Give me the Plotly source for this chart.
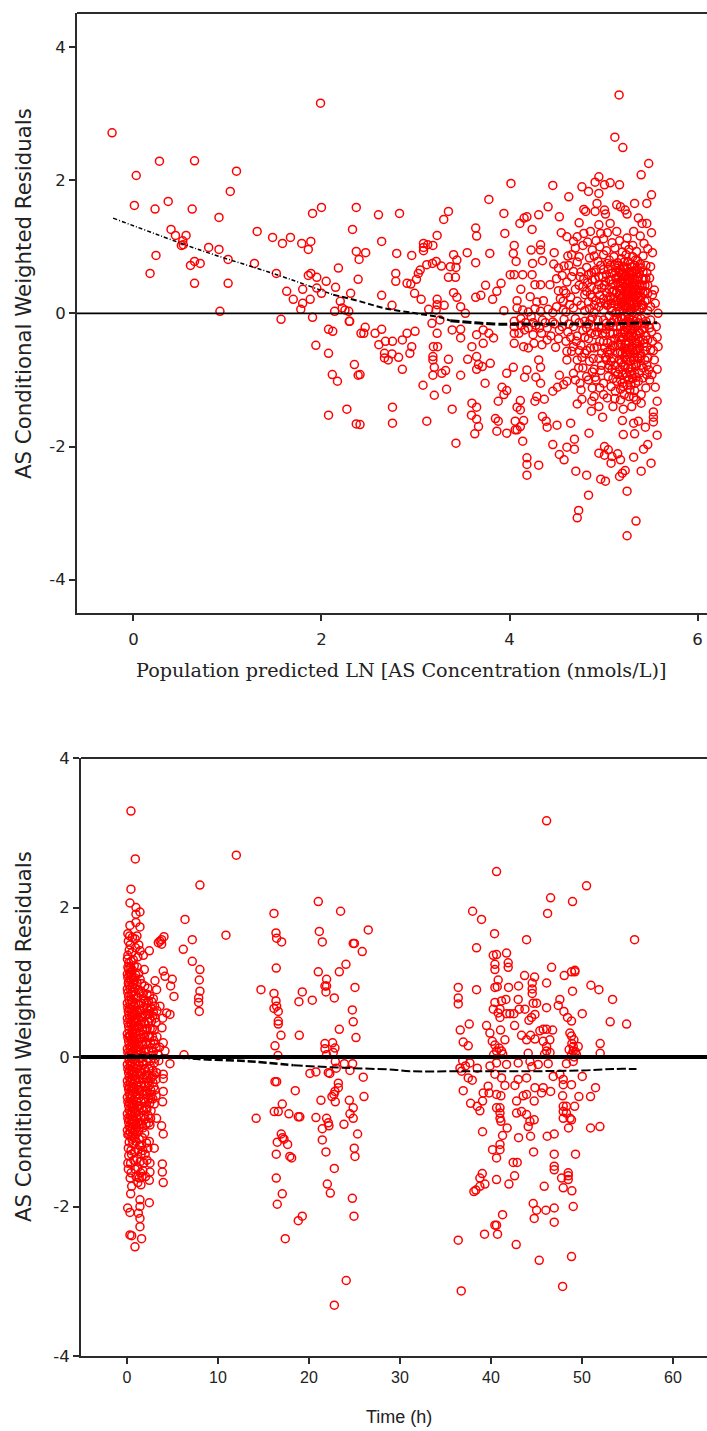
import plotly.graph_objects as go

# ---------- Upper panel: population prediction vs residual ----------
pred_sparse_left = [
(-.227,2.71),(.03,2.07),(.277,2.285),(.65,2.29),(1.096,2.135),(1.03,1.83),(.01,1.62),(.23,1.565),(.37,1.68),(.625,1.565),
(.91,1.44),(.40,1.26),(.447,1.17),(.56,1.17),(.525,1.09),(.51,1.02),(.53,1.03),(.80,.99),(.91,.96),(.24,.87),(.65,.78),(.607,.72),
(.71,.75),(1.007,.81),(.177,.60),(.65,.45),(1.007,.45),(.92,.03),(1.316,1.23),(1.48,1.14),(1.585,1.05),(1.67,1.14),(1.79,1.05),
(1.887,1.08),(1.86,.96),(1.905,1.50),(2.0,1.59),(1.99,3.155),(2.37,1.59),(2.33,1.26),(2.37,.93),(2.40,.81),(1.287,.75),(1.52,.60),
(2.18,.68),(2.39,.51),(1.86,.57),(1.887,.60),(1.95,.54),(2.05,.48),(2.15,.39),(1.80,.36),(1.95,.38),(1.63,.33),(2.0,.30),(2.31,.30),
(1.70,.21),(1.88,.21),(1.80,.15),(1.78,.06),(2.2,.18),(2.22,.08),(2.14,.03),(2.29,.03),(2.25,.05),(1.57,-.09),(1.905,-.06),(2.295,-.12),
(2.075,-.24),(2.12,-.27),(2.42,-.30),(1.94,-.48),(2.075,-.60),(2.35,-.77),(2.115,-.92),(2.39,-.93),(2.17,-1.02),(2.27,-1.44),
(2.075,-1.53),(2.37,-1.66),(2.465,-.21),(2.45,-.30),(2.30,-.12)]
pred_mid_upper = [
(2.606,1.48),(2.83,1.50),(2.64,1.08),(2.47,.91),(2.80,.90),(2.96,.87),(2.79,.60),(2.79,.48),(2.91,.45),(2.95,.44),(3.01,.51),(2.64,.27),
(2.75,.12),(2.99,.30),(3.06,.21),(3.14,.06),(3.23,.21),(3.23,.13),(3.305,.12),(3.22,.05),(3.35,1.53),(3.30,1.41),(3.23,1.17),(3.185,1.02),
(3.085,1.05),(3.085,.99),(3.085,.94),(3.13,1.03),(3.22,.78),(3.18,.75),(3.12,.73),(3.05,.65),(3.03,.60),(3.275,.71),(3.405,.88),(3.55,.91),
(3.64,.76),(3.79,.90),(3.37,.70),(3.44,.80),(3.43,.69),(3.35,.54),(3.425,.54),(3.405,.31),(3.44,.24),(3.64,.24),(3.695,.27),(3.745,.42),
(3.82,.21),(3.865,.33),(3.91,.45),(3.48,.10),(3.53,.0),(3.64,1.28),(3.65,1.16),(3.78,1.71),(4.015,1.95),(3.94,1.50),(3.95,1.20),(4.11,1.35),
(4.155,1.43),(4.185,1.45),(4.24,1.26),(4.31,1.48),(4.41,1.60),(4.46,1.92),(4.53,1.45),(4.63,1.75),(4.74,1.36),(4.77,1.90),(4.84,1.83),
(4.91,1.97),(4.95,2.05),(4.95,1.80),(5.01,1.93),(5.07,1.96),(5.17,1.93),(5.165,3.28),(5.12,2.645),(5.205,2.49),(5.48,2.25),(5.40,2.08),
(5.51,1.78),(5.46,1.65),(5.33,1.65),(5.14,1.63),(5.18,1.60),(5.23,1.55),(5.25,1.49),(4.93,1.65),(4.79,1.56),(4.81,1.53),(5.01,1.55),(5.02,1.49),
(4.91,1.53),(4.05,1.02),(4.04,.90),(4.07,.78),(4.23,.95),(4.33,1.03),(4.33,.95),(4.245,.75),(4.35,.79),(4.475,.91),(4.007,.58),(4.05,.58),
(4.14,.58),(4.24,.58),(4.12,.36),(4.27,.43),(4.33,.43),(4.43,.43),(4.52,.34),(4.575,.34),(4.08,.19),(4.22,.25),(4.29,.17),(4.36,.19),(4.50,.10),
(3.94,.04),(4.08,.08),(4.14,.05),(4.2,.02),(4.27,.07),(4.33,.03),(4.41,.06),(4.46,.01),(4.57,.05)]
pred_dense_upper = [
(4.55,1.21),(4.61,1.15),(4.68,1.08),(4.72,1.15),(4.79,1.2),(4.86,1.23),(4.95,1.33),(4.97,1.2),(5.07,1.35),(5.14,1.23),(5.25,1.13),(5.32,1.23),
(5.37,1.43),(5.41,1.35),(5.46,1.35),(5.51,1.21),(5.43,1.05),(5.52,.91),(5.5,.7),(5.49,.53),(5.54,.35),(5.55,.15),(5.58,.0),
(4.47,.74),(4.52,.68),(4.58,.71),(4.62,.86),(4.66,.88),(4.68,.63),(4.72,.77),(4.75,.55),(4.74,.42),(4.70,.36),(4.65,.24),(4.61,.47),(4.56,.57),
(4.78,1.02),(4.83,1.07),(4.88,.95),(4.92,1.09),(4.96,1.0),(5.0,1.12),(5.04,1.21),(5.09,1.06),(5.12,.98),(5.17,1.09),(5.2,.92),(5.23,1.02),
(4.85,.83),(4.9,.86),(4.94,.78),(5.0,.88),(5.03,.94),(5.06,.8),(5.11,.85),(5.15,.76),(5.19,.82),(5.24,.88),(5.27,.96),(5.31,1.02),(5.35,.93),
(5.39,1.16),(5.42,.86),(5.45,.72),(5.47,.97),(5.36,.79),(5.31,.85),(5.28,.74),(5.25,.68),(5.21,.7),(5.17,.62),(5.13,.68),(5.09,.6),(5.05,.66),
(4.97,.72),(4.92,.65),(4.87,.61),(4.82,.69),(4.79,.52),(4.83,.46),(4.87,.4),(4.91,.51),(4.95,.43),(4.99,.55),(5.02,.48),(5.06,.36),(5.1,.44),
(5.13,.53),(5.16,.41),(5.19,.49),(5.22,.55),(5.25,.45),(5.28,.6),(5.31,.52),(5.34,.64),(5.37,.55),(5.4,.68),(5.43,.5),(5.46,.61),(5.38,.42),
(5.34,.36),(5.3,.42),(5.27,.33),(5.24,.29),(5.2,.36),(5.17,.27),(5.14,.31),(5.11,.23),(5.07,.25),(5.03,.31),(5.0,.22),(4.96,.27),(4.92,.19),
(4.88,.24),(4.84,.17),(4.8,.28),(4.76,.12),(4.72,.18),(4.68,.08),(4.64,.13),(4.6,.02),(4.8,.04),(4.85,.07),(4.9,.02),(4.95,.1),(5.0,.05),
(5.04,.12),(5.08,.08),(5.12,.14),(5.16,.1),(5.2,.16),(5.24,.11),(5.28,.19),(5.32,.23),(5.36,.17),(5.4,.25),(5.44,.33),(5.47,.42),(5.42,.12),
(5.38,.06),(5.33,.09),(5.29,.03),(5.25,.02),(5.21,.06),(5.17,.03),(5.13,.01),(5.09,.03),(5.46,.2),(5.5,.1),(5.47,.04),(5.52,.28),
(5.12,.72),(5.16,.55),(5.2,.6),(5.22,.77),(5.26,.55),(5.3,.63),(5.33,.72),(5.18,.47),(5.23,.4),(5.27,.47),(5.31,.3),(5.35,.27),(5.22,.2),(5.26,.26),
(5.14,.18),(5.18,.22),(5.29,.12),(5.33,.15),(5.37,.35),(5.41,.42)]
pred_blob_core = [
(5.08,.5),(5.11,.34),(5.13,.62),(5.15,.46),(5.15,.2),(5.16,.72),(5.18,.34),(5.18,.66),(5.19,.13),(5.2,.52),(5.21,.28),(5.21,.44),(5.22,.68),(5.23,.08),
(5.24,.58),(5.24,.37),(5.25,.22),(5.26,.5),(5.26,.78),(5.27,.14),(5.27,.63),(5.28,.39),(5.29,.53),(5.29,.27),(5.3,.7),(5.3,.07),(5.31,.46),(5.31,.18),
(5.32,.6),(5.32,.33),(5.33,.5),(5.34,.26),(5.34,.8),(5.35,.42),(5.35,.12),(5.36,.66),(5.36,.5),(5.37,.24),(5.38,.6),(5.39,.34),(5.39,.74),(5.4,.13),
(5.41,.52),(5.42,.3),(5.42,.62),(5.44,.42),(5.44,.18),(5.45,.52),(5.47,.3),
(5.06,-.04),(5.1,-.2),(5.12,-.38),(5.14,-.08),(5.15,-.3),(5.16,-.48),(5.17,-.7),(5.18,-.2),(5.19,-.4),(5.2,-.6),(5.2,-.08),(5.21,-.78),(5.22,-.28),
(5.23,-.46),(5.24,-.14),(5.24,-.7),(5.25,-.54),(5.26,-.3),(5.27,-.08),(5.27,-.44),(5.28,-.66),(5.29,-.24),(5.3,-.5),(5.3,-.82),(5.31,-.1),(5.32,-.36),
(5.32,-.6),(5.33,-.2),(5.34,-.56),(5.34,-.76),(5.35,-.32),(5.36,-.46),(5.37,-.14),(5.38,-.52),(5.39,-.3),(5.4,-.64),(5.4,-.08),(5.42,-.4),(5.43,-.22),
(5.44,-.56),(5.45,-.12),(5.47,-.4),(5.49,-.22),(5.5,-.55),
(5.2,.25),(5.23,.46),(5.25,.33),(5.28,.05),(5.3,.36),(5.33,.42),(5.36,.3),(5.19,.58),(5.22,.11),(5.26,.09),(5.31,.25),(5.35,.05),(5.39,.2),(5.41,.08),
(5.18,-.05),(5.22,-.16),(5.25,-.22),(5.28,-.34),(5.31,-.3),(5.34,-.12),(5.37,-.38),(5.21,-.36),(5.24,-.58),(5.27,-.52),(5.3,-.16),(5.33,-.66),(5.36,-.66),(5.28,-.14)]
pred_blob_wide = [
(4.9,.62),(4.93,.36),(4.95,.55),(4.97,.16),(4.98,.38),(5.0,.66),(5.01,.42),(5.02,.14),(5.03,.58),(5.04,.75),(5.05,.2),(5.06,.5),(5.07,.72),(5.08,.15),(5.09,.32),
(4.84,.58),(4.86,.28),(4.88,.5),(4.9,.12),(4.82,.33),(4.78,.4),(4.76,.62),(4.74,.85),(4.7,.98),(4.66,.55),(4.63,.72),(4.6,.3),(4.57,.18),(4.54,.22),(4.5,.52),
(4.88,-.06),(4.91,-.32),(4.93,-.5),(4.95,-.2),(4.96,-.42),(4.98,-.78),(4.99,-.3),(5.0,-.1),(5.01,-.52),(5.02,-.66),(5.03,-.24),(5.04,-.44),(5.05,-.82),(5.06,-.62),(5.07,-.3),(5.08,-.72),(5.09,-.14),(5.1,-.48),
(4.84,-.16),(4.86,-.52),(4.87,-.3),(4.89,-.68),(4.9,-.84),(4.91,-.96),(4.82,-.56),(4.8,-.36),(4.77,-.66),(4.74,-.56),(4.71,-.42),(4.68,-.5),(4.65,-.36),(4.63,-.16),(4.6,-.42),(4.56,-.2),(4.52,-.38),
(4.48,-.16),(4.44,-.34),(4.4,-.4),(4.38,-.14),(4.32,-.22),(4.25,-.14),(4.2,-.22),(4.12,-.18),(4.1,-.3),(5.12,-.78),(5.15,-.92),(5.2,-1.05),(5.24,-.9),(5.3,-.92),(5.35,-.96),(5.42,-.82),(5.46,-.78)]
pred_mid_lower = [
(2.57,-.30),(2.64,-.24),(2.68,-.42),(2.61,-.47),(2.755,-.42),(2.86,-.40),(2.91,-.30),(2.995,-.27),(2.96,-.50),(2.94,-.60),(2.67,-.60),(2.67,-.67),
(2.71,-.70),(2.75,-.61),(2.82,-.66),(2.86,-.84),(2.41,-.92),(3.08,-1.08),(2.755,-1.41),(2.755,-1.65),(3.12,-1.62),(2.41,-1.67),(3.175,-.15),
(3.26,-.10),(3.23,-.30),(3.39,-.25),(3.48,-.24),(3.48,-.37),(3.19,-.50),(3.235,-.50),(3.185,-.65),(3.185,-.70),(3.35,-.69),(3.20,-.81),(3.185,-.93),
(3.28,-.90),(3.32,-.86),(3.48,-.93),(3.20,-1.23),(3.33,-1.14),(3.39,-1.44),(3.6,-1.35),(3.65,-1.41),(3.595,-1.53),(3.65,-1.59),(3.67,-1.70),
(3.63,-1.81),(3.43,-1.95),(3.60,-.50),(3.555,-.69),(3.65,-.65),(3.67,-.77),(3.65,-.84),(3.71,-.80),(3.795,-.75),(3.74,-1.05),(3.65,-.32),(3.72,-.25),
(3.78,-.30),(3.83,-.37),(3.72,-.45),(3.92,-1.11),(3.97,-1.16),(3.94,-1.22),(3.88,-1.32),(3.85,-1.58),(3.88,-1.62),(3.865,-1.77),(3.97,-1.80),(4.06,-1.75),
(3.97,-.90),(4.04,-.81),(4.05,-.45),(4.05,-.30),(4.15,-.50),(4.20,-.52),(4.26,-.45),(4.345,-.47),(4.185,-.85),(4.33,-.81),(4.31,-.70),(4.16,-.96),
(4.28,-.96),(4.33,-1.05),(4.49,-.51),(4.115,-1.31),(4.08,-1.41),(4.115,-1.45),(4.06,-1.62),(4.15,-1.61),(4.115,-1.70),(4.08,-1.75),(4.14,-1.92),
(4.185,-2.17),(4.185,-2.27),(4.185,-2.43),(4.31,-2.28),(4.27,-1.32),(4.37,-1.29),(4.29,-1.25),(4.46,-1.17),(4.51,-1.11),(4.53,-.93),(4.575,-1.07),
(4.61,-1.02),(4.68,-.90),(4.35,-1.55),(4.39,-1.62),(4.40,-1.71),(4.505,-1.68),(4.65,-1.65),(4.46,-1.97),(4.53,-2.12),(4.58,-2.20),(4.61,-2.01),
(4.69,-1.89),(4.69,-2.04),(4.845,-1.80),(4.705,-2.37),(4.82,-2.43),(4.97,-2.49),(5.02,-2.52),(4.84,-2.73),(4.735,-2.96),(4.72,-3.07),(5.345,-3.12),
(5.25,-3.34),(5.25,-2.67),(5.40,-2.37),(5.505,-2.25),(5.17,-2.45),(5.20,-2.40),(5.23,-2.36),(5.32,-2.16),(5.425,-2.04),(5.47,-1.97),(5.57,-1.83),
(4.95,-2.10),(5.01,-2.0),(5.01,-2.13),(5.05,-2.05),(5.09,-2.15),(5.08,-2.25),(5.15,-2.11),(5.18,-2.2),(5.21,-1.82),(5.33,-1.81),(5.20,-1.61),(5.32,-1.65),
(5.37,-1.62),(5.445,-1.71),(5.53,-1.48),(5.53,-1.56),(5.53,-1.63),(4.99,-1.56),(4.87,-1.47),(4.72,-1.36),(4.77,-1.29),(4.875,-1.32),(4.95,-1.40),
(5.04,-1.27),(5.10,-1.40),(5.21,-1.44),(5.125,-1.17),(5.18,-1.30),(5.57,-1.32),(5.55,-1.11),(5.57,-.84),(5.515,-.92),(5.40,-1.22),(5.40,-1.35),(5.32,-1.26),
(4.61,-.57),(4.66,-.57),(4.61,-.70),(4.72,-.70),(4.735,-.82),(4.75,-1.05),(4.84,-1.0),(4.05,-.12),(4.12,-.08),(4.17,-.14),(4.23,-.05),(4.28,-.18),
(4.35,-.1),(4.4,-.22),(4.46,-.13),(4.53,-.25),(4.58,-.09),(4.62,-.28),(4.05,-.2),(4.16,-.25),(4.25,-.32),(4.34,-.3)]
pred_dense_lower = [
(4.68,-.2),(4.72,-.34),(4.76,-.48),(4.8,-.12),(4.84,-.38),(4.8,-.6),(4.85,-.72),(4.88,-.88),(4.9,-.52),(4.93,-.28),(4.95,-.68),(4.97,-.86),(4.92,-1.0),
(4.96,-1.12),(5.0,-1.05),(5.0,-.42),(5.03,-.15),(5.04,-.58),(5.06,-.78),(5.05,-.95),(5.08,-1.1),(5.1,-.3),(5.12,-.5),(5.11,-.68),(5.13,-.88),(5.14,-1.02),
(5.16,-.12),(5.17,-.36),(5.18,-.58),(5.19,-.74),(5.2,-.92),(5.21,-1.1),(5.23,-.05),(5.24,-.22),(5.24,-.45),(5.25,-.62),(5.26,-.82),(5.27,-1.0),(5.28,-1.15),
(5.29,-.14),(5.3,-.34),(5.31,-.52),(5.32,-.7),(5.33,-.9),(5.34,-1.05),(5.36,-.08),(5.37,-.26),(5.38,-.42),(5.39,-.6),(5.4,-.78),(5.42,-.97),(5.44,-.16),
(5.45,-.34),(5.46,-.5),(5.47,-.67),(5.48,-.85),(5.5,-.1),(5.51,-.28),(5.52,-.42),(5.53,-.56),(5.54,-.7),(5.56,-.2),(5.57,-.36),(5.58,-.5),(5.49,-1.0),
(4.7,-.08),(4.74,-.14),(4.78,-.26),(4.82,-.22),(4.86,-.1),(4.9,-.2),(4.94,-.1),(4.98,-.22),(5.02,-.3),(5.06,-.18),(5.08,-.42),(5.14,-.2),(5.2,-.3),
(5.22,-.52),(5.18,-.46),(5.26,-.36),(5.28,-.58),(5.33,-.45),(5.35,-.18),(5.31,-.24),(5.26,-.12),(5.11,-.1),(5.07,-.55),(5.15,-.6),(5.22,-.66),
(5.29,-.72),(5.36,-.55),(5.43,-.45),(5.41,-.25),(5.38,-.68),(5.35,-.78),(5.28,-.88),(5.23,-.8),(5.17,-.84),(5.09,-.84),(5.03,-.7),(4.98,-.6),(5.1,-.98),
(5.18,-1.0),(5.25,-.95),(5.31,-.98),(5.38,-.9),(5.44,-.7),(5.46,-.92),(5.29,-1.08),(5.33,-1.16),(5.25,-1.08),(5.18,-1.14),(5.37,-1.02),(5.35,-1.3),
(5.3,-1.4),(5.27,-1.25),(5.22,-1.22),(5.12,-1.28),(5.45,-1.12),(4.78,-.82),(4.82,-.95),(4.88,-1.12),(4.7,-1.0),(4.76,-1.15),(4.9,-1.25),(5.0,-1.22)]

# Loess smoother through the upper panel
pred_curve_thin_x = [-.216,.71,1.525,2.125]
pred_curve_thin_y = [1.43,.95,.58,.28]
pred_curve_mid_x = [2.125,2.41,2.66,3.0,3.26,3.37]
pred_curve_mid_y = [.28,.18,.08,0,-.06,-.11]
pred_curve_thick_x = [3.37,3.83,4.2,4.9,5.57]
pred_curve_thick_y = [-.11,-.16,-.16,-.16,-.14]

# ---------- Lower panel: time vs residual ----------
time_sparse = [
(.44,3.29),(.92,2.65),(.44,2.245),(.33,2.06),(.99,2.0),(1.43,1.94),(.99,1.91),(.33,1.76),(1.43,1.74),(.99,1.80),(6.38,1.84),(8.02,2.30),(12.02,2.70),(10.88,1.63),
(7.18,1.57),(6.19,1.44),(7.18,1.28),(8.02,1.17),(7.95,1.03),(8.02,.88),(7.88,.79),(7.88,.73),(7.95,.61),(4.07,1.61),(3.81,1.57),(3.45,1.53),(3.81,1.51),(3.63,1.55),
(2.46,1.42),(1.80,1.36),(1.91,1.17),(3.99,1.15),(4.18,1.08),(4.98,1.04),(3.08,1.02),(4.8,.95),(5.17,.81),(3.26,.90),(3.63,.68),(4.73,.57),(4.36,.59),(3.92,.52),(3.85,.39),
(3.99,.19),(4.18,.08),(6.27,.03),(4.73,-.09),(3.99,-.23),(3.99,-.29),(3.99,-.46),(3.92,-.60),(3.0,-.08),(3.26,-.21),(3.26,-.82),(2.6,-.82),(2.53,-.91),(3.81,-.92),(3.99,-1.03),
(2.46,-1.13),(3.0,-1.22),(3.89,-1.43),(3.89,-1.54),(3.99,-1.68),(2.53,-1.42),(2.53,-1.54),(2.46,-1.65),(1.54,-1.71),(.52,-1.73),(.41,-1.83),(2.46,-1.95),(1.43,-1.91),(1.43,-2.0),
(.08,-2.02),(.33,-2.08),(1.25,-2.09),(1.43,-2.16),(1.43,-2.27),(.33,-2.38),(.52,-2.39),(1.61,-2.43),(.88,-2.54)]
time_group_20h = [
(16.16,1.92),(16.38,1.66),(16.45,1.59),(17.0,1.54),(16.41,1.19),(14.73,.90),(16.16,.85),(16.38,.75),(16.45,.68),(16.16,.65),(16.63,.61),(16.63,.48),(16.63,.44),(16.93,.29),(16.27,.15),(16.6,.02),
(18.94,.29),(21.03,2.08),(23.48,1.95),(26.52,1.70),(21.14,1.68),(21.47,1.54),(24.87,1.52),(25.0,1.52),(25.86,1.41),(24.07,1.24),(23.34,1.14),(21.03,1.14),(21.94,1.04),(21.76,.95),(21.94,.95),
(21.87,.87),(19.27,.87),(18.9,.74),(20.37,.76),(22.79,.79),(25.06,.93),(24.77,.63),(24.87,.47),(23.34,.37),(25.17,.26),(21.76,.18),(21.76,.11),(22.6,.19),(22.86,.12),(21.94,.03),(22.68,.06),
(14.2,-.82),(16.27,-.33),(16.45,-.33),(18.5,-.45),(17.07,-.63),(16.19,-.73),(16.63,-.73),(17.8,-.76),(18.83,-.80),(19.0,-.80),(16.96,-1.03),(17.1,-1.08),(16.52,-1.14),(17.66,-1.17),(17.26,-1.1),
(16.41,-1.30),(17.9,-1.33),(18.1,-1.35),(16.41,-1.62),(17.07,-1.83),(16.52,-1.97),(18.83,-2.19),(19.27,-2.13),(17.4,-2.43),(22.79,-3.32),(24.1,-2.99),(24.95,-2.13),(24.77,-1.89),(22.35,-1.82),
(22.02,-1.70),(22.79,-1.49),(25.06,-1.33),(24.98,-1.22),(25.35,-1.03),(21.87,-1.27),(21.47,-1.11),(21.47,-.96),(23.85,-.90),(20.77,-.81),(21.94,-.82),(22.13,-.88),(22.2,-.92),(21.32,-.58),(24.87,-.68),
(24.44,-.58),(24.51,-.76),(24.87,-.82),(26.05,-.53),(25.97,-.27),(22.9,-.60),(22.53,-.53),(22.86,-.46),(23.23,-.41),(23.23,-.35),(22.75,-.5),(20.11,-.22),(20.77,-.20),(22.13,-.21),(22.3,-.22),
(24.51,-.18),(24.8,-.09),(23.89,-.09),(22.9,-.06),(23.0,-.15)]
time_group_40h_upper = [
(46.12,3.16),(40.62,2.48),(50.51,2.29),(46.56,2.13),(48.97,2.08),(46.23,1.92),(37.99,1.95),(38.97,1.84),(40.4,1.65),(43.92,1.57),(55.79,1.57),(38.42,1.46),(40.26,1.36),(40.62,1.37),(41.72,1.39),
(40.44,1.24),(40.44,1.17),(41.9,1.26),(41.9,1.2),(46.67,1.2),(49.23,1.16),(48.86,1.14),(49.23,1.14),(48.06,1.09),(43.7,1.09),(44.8,1.07),(46.12,.99),(40.8,1.03),(40.7,.94),(40.44,.93),(41.94,.93),
(43.04,.95),(36.41,.93),(36.41,.79),(36.41,.71),(38.42,.90),(44.54,.99),(44.54,.91),(44.54,.85),(48.97,.88),(50.99,.96),(51.87,.90),(53.37,.77),(43.0,.77),(41.65,.77),(41.17,.75),(40.44,.73),
(44.65,.72),(45.02,.72),(47.58,.77),(47.4,.69),(46.12,.66),(40.26,.64),(41,.64),(40.8,.59),(41.72,.58),(42.09,.58),(42.53,.58),(43.11,.64),(43.74,.64),(48.02,.61),(48.42,.53),(48.86,.48),(50.04,.58),
(41,.53),(44.84,.57),(44.47,.53),(44.18,.49),(53.11,.47),(54.91,.44),(42.6,.42),(37.62,.44),(36.63,.36),(39.52,.42),(41.06,.36),(39.89,.32),(45.75,.37),(46.78,.36),(45.38,.35),(46.12,.37),(48.68,.32),
(48.86,.28),(49.12,.23),(36.96,.2),(37.51,.15),(41.54,.23),(40.15,.21),(40.44,.16),(43.37,.29),(43.92,.23),(44.36,.29),(44.84,.24),(45.75,.21),(46.48,.23),(46.12,.14),(49.05,.14),(49.6,.14),(49.05,.08),
(49.41,.03),(48.86,.03),(52.01,.18),(52.01,.05),(40.62,.08),(41.17,.08),(44.1,.05),(46.12,.08),
(40.9,.12),(41.3,.04),(40.3,.03),(48.6,.1),(49.3,.07),(48.9,.18),(49.15,.0),(45.9,.04),(46.5,.06)]
time_group_40h_lower = [
(36.41,-2.45),(36.74,-3.13),(47.88,-3.07),(42.78,-2.51),(45.31,-2.72),(48.86,-2.67),(39.3,-2.37),(40.73,-2.37),(40.44,-2.25),(40.62,-2.25),(41.28,-2.11),(44.76,-2.16),(46.96,-2.21),(45.02,-2.05),
(44.65,-1.96),(46.04,-2.05),(46.96,-2.02),(49.05,-2.0),(38.13,-1.8),(38.35,-1.78),(38.79,-1.73),(39.34,-1.7),(38.79,-1.62),(39.05,-1.56),(40.62,-1.64),(41.98,-1.7),(42.6,-1.59),(45.86,-1.73),(47.95,-1.75),
(48.9,-1.79),(47.77,-1.62),(48.5,-1.64),(48.5,-1.55),(48.5,-1.59),(46.96,-1.46),(46.96,-1.51),(42.45,-1.41),(42.89,-1.41),(40.62,-1.35),(40.18,-1.24),(41,-1.24),(41,-1.17),(44.69,-1.27),(46.96,-1.3),(49.3,-1.3),
(39.08,-1.0),(41.79,-.95),(41.28,-1.05),(43.04,-1.08),(44.36,-1.06),(46.19,-1.06),(46.96,-1.03),(48.53,-.95),(50.95,-.95),(51.98,-.93),(44.29,-.86),(44.76,-.84),(44.1,-.93),(42.82,-.75),(43.37,-.73),(43.92,-.77),
(41,-.68),(41,-.75),(41,-.82),(40.62,-.68),(41.1,-.86),(47.95,-.66),(47.95,-.73),(48.3,-.66),(47.95,-.82),(48.7,-.82),(48.3,-.75),(48.86,-.84),(49.2,-.66),(37.77,-.62),(38.5,-.66),(38.79,-.72),(39.08,-.59),
(36.96,-.45),(37.95,-.31),(39.16,-.48),(39.7,-.39),(39.8,-.48),(40.62,-.5),(41.1,-.52),(42.82,-.59),(43.55,-.52),(43.92,-.5),(44.76,-.59),(44.84,-.41),(45.75,-.41),(45.57,-.48),(46.56,-.46),(47.88,-.52),(49.67,-.53),
(50.95,-.53),(51.5,-.41),(42.64,-.38),(41.54,-.38),(41.17,-.28),(50.04,-.26),(48.86,-.37),(47.95,-.37),(46.85,-.26),(47.58,-.23),(47.95,-.3),(43,-.3),(43.92,-.28),(37.51,-.28),(36.78,-.19),(40.44,-.23),(36.6,-.15),
(37.69,-.08),(40.62,-.08),(41.72,-.1),(43,-.08),(44.29,-.06),(45.2,-.1),(46.3,-.09),(48.3,-.09),(49.05,-.06),(44.5,-.13),(39.9,-.12),(36.9,-.05),(37.2,-.12),(38.5,-.15)]
time_dense_column = [
(.1,1.65),(.3,1.62),(.15,1.55),(.35,1.5),(.6,1.6),(.9,1.58),(1.1,1.62),(1.3,1.5),(.25,1.43),(.1,1.36),(.55,1.4),(.95,1.46),(.7,1.3),(1.2,1.34),(1.45,1.42),(.2,1.26),(.45,1.28),(.1,1.2),(.8,1.22),(1.15,1.2),
(.35,1.13),(.6,1.16),(.95,1.1),(1.3,1.12),(.1,1.06),(.45,1.04),(.75,1.03),(1.1,1.0),(1.45,1.04),(.25,.96),(.6,.94),(.9,.92),(1.25,.9),(.1,.86),(.45,.84),(.75,.82),(1.1,.8),(1.55,.88),(1.8,.85),(2.2,.84),(2.5,.82),
(.25,.76),(.6,.74),(.95,.72),(1.3,.7),(1.6,.72),(2.0,.76),(2.35,.75),(2.9,.78),(.1,.66),(.45,.64),(.8,.63),(1.15,.6),(1.5,.62),(1.85,.66),(2.2,.65),(2.6,.66),(3.05,.68),(.25,.56),(.6,.54),(.95,.52),(1.3,.5),
(1.65,.54),(2.05,.56),(2.4,.58),(2.85,.55),(3.3,.62),(.1,.46),(.45,.44),(.8,.42),(1.15,.4),(1.5,.44),(1.9,.46),(2.3,.47),(2.7,.48),(3.2,.46),(.25,.36),(.6,.34),(.95,.32),(1.3,.3),(1.7,.36),(2.1,.37),(2.55,.38),(3.0,.36),
(.1,.26),(.45,.24),(.8,.22),(1.15,.2),(1.5,.26),(1.9,.26),(2.35,.28),(2.8,.27),(3.3,.27),(.25,.16),(.6,.14),(.95,.12),(1.3,.1),(1.7,.16),(2.15,.17),(2.6,.18),(3.05,.17),(3.6,.13),(.1,.06),(.45,.04),(.8,.02),(1.15,.03),
(1.5,.07),(1.9,.07),(2.4,.08),(2.9,.07),(3.4,.04),(.25,-.05),(.6,-.07),(.95,-.09),(1.3,-.11),(1.7,-.06),(2.15,-.06),(2.6,-.05),(3.5,-.05),(.1,-.16),(.45,-.18),(.8,-.2),(1.15,-.22),(1.5,-.16),(1.95,-.16),(2.4,-.16),(2.85,-.18),
(.25,-.27),(.6,-.29),(.95,-.31),(1.3,-.33),(1.75,-.28),(2.2,-.28),(2.65,-.29),(3.2,-.3),(.1,-.38),(.45,-.4),(.8,-.42),(1.15,-.44),(1.55,-.39),(2.0,-.39),(2.45,-.38),(2.95,-.4),(.25,-.49),(.6,-.51),(.95,-.53),(1.3,-.55),(1.75,-.5),
(2.2,-.5),(2.7,-.5),(3.2,-.52),(.1,-.6),(.45,-.62),(.8,-.64),(1.15,-.66),(1.55,-.6),(2.0,-.61),(2.5,-.62),(3.0,-.63),(.25,-.71),(.6,-.73),(.95,-.75),(1.3,-.77),(1.8,-.72),(2.2,-.7),(2.65,-.72),(.1,-.82),(.45,-.84),(.8,-.86),
(1.15,-.88),(1.55,-.8),(2.0,-.83),(2.4,-.88),(.25,-.93),(.6,-.95),(.95,-.97),(1.3,-.99),(1.75,-.95),(.1,-1.04),(.45,-1.06),(.8,-1.08),(.25,-1.14),(.65,-1.16),(1.0,-1.13),(1.35,-1.1),(1.6,-1.18),(.15,-1.22),(.45,-1.25),
(.2,-1.32),(.5,-1.3),(.85,-1.27),(1.2,-1.24),(1.55,-1.3),(2.0,-1.3),(.1,-1.42),(.4,-1.42),(.75,-1.38),(1.1,-1.36),(1.45,-1.4),(1.85,-1.42),(2.2,-1.38),(.15,-1.5),(.45,-1.55),(.9,-1.5),(1.2,-1.48),(1.5,-1.55),(1.75,-1.52),
(.35,-1.62),(1.0,-1.6),(1.35,-1.62),(1.65,-1.6),(2.05,-1.6),(1.2,-1.68)]
time_column_core = [
(.05,1.31),(.2,1.18),(.05,1.11),(.3,1.03),(.15,.99),(.5,1.09),(.05,.91),(.35,.91),(.7,.97),(.55,.87),(.18,.81),(.85,1.06),(.05,.72),(.35,.7),(.7,.68),(.15,.61),(.55,.6),(.9,.58),(.05,.52),(.32,.5),
(.7,.49),(1.05,.47),(.18,.41),(.55,.39),(.88,.37),(.05,.31),(.35,.29),(.7,.27),(1.05,.25),(.18,.21),(.55,.19),(.88,.17),(.05,.11),(.35,.09),(.7,.07),(1.05,.08),(.15,.0),(.52,-.02),(.85,-.03),(.05,-.1),(.35,-.12),
(.7,-.14),(1.05,-.16),(.18,-.21),(.55,-.23),(.88,-.25),(.05,-.32),(.35,-.34),(.7,-.36),(1.05,-.38),(.18,-.43),(.55,-.45),(.88,-.47),(.05,-.54),(.35,-.56),(.7,-.58),(1.05,-.6),(.18,-.65),(.55,-.67),(.88,-.69),
(.05,-.76),(.35,-.78),(.7,-.8),(1.05,-.82),(.18,-.87),(.55,-.89),(.88,-.91),(.05,-.98),(.35,-1.0),(.65,-1.02),(.95,-1.04),(1.1,-.94),(1.25,-.66),(1.38,-.44),(1.42,-.2),(1.35,.03),(1.4,.24),(1.3,.42),(1.42,.63),(1.32,.86),
(.42,1.2),(.62,1.06),(.28,1.11),(.78,.88),(.48,.77),(.28,.64),(.62,.56),(.85,.46),(.42,.46),(.25,.28),(.62,.31),(.82,.14),(.42,.14),(.25,.03),(.62,.03),(.98,-.05),(.42,-.07),(.28,-.18),(.62,-.19),(.82,-.3),(.42,-.3),
(.25,-.41),(.62,-.42),(.98,-.5),(.42,-.52),(.28,-.62),(.62,-.64),(.82,-.73),(.42,-.74),(.25,-.84),(.62,-.85),(.98,-.9),(.42,-.95),(.2,-1.03),(.55,-1.1),(.82,-1.0)]
time_column_outer = [
(1.62,.98),(1.78,.78),(1.95,.95),(2.15,.72),(2.3,.92),(2.45,.62),(2.72,.74),(2.9,.6),(1.58,.47),(1.78,.58),(2.0,.44),(2.25,.58),(2.5,.52),(2.78,.38),(3.1,.52),(1.6,.2),(1.8,.3),(2.05,.2),(2.22,.38),(2.48,.26),(2.7,.12),
(2.95,.22),(3.2,.12),(1.6,-.02),(1.82,.02),(2.05,.1),(2.3,-.02),(2.75,.02),(3.1,-.02),(1.62,-.22),(1.85,-.1),(2.1,-.24),(2.35,-.24),(2.55,-.12),(2.78,-.26),(3.0,-.24),(1.62,-.46),(1.88,-.34),(2.1,-.46),(2.32,-.34),(2.6,-.44),
(2.85,-.34),(3.1,-.44),(1.65,-.68),(1.9,-.56),(2.1,-.68),(2.35,-.56),(2.62,-.56),(2.85,-.56),(1.62,-.9),(1.88,-.78),(2.1,-.9),(2.32,-.78),(1.45,-.9),(1.4,-1.18),(1.7,-1.08),(1.95,-1.02),(2.15,-1.15),(1.75,-1.25),(2.3,-1.22)]

# Loess smoother through the lower panel
time_curve_mid_x = [0,5,7.66,13.15,18.3]
time_curve_mid_y = [.02,.01,-.025,-.055,-.11]
time_curve_thick_x = [18.3,23.8,29.3,31.1,37.3,44.65,50.1,53.4,56]
time_curve_thick_y = [-.11,-.145,-.17,-.19,-.19,-.19,-.18,-.16,-.16]

y_tick_values = [-4, -2, 0, 2, 4]
y_tick_labels = ["-4", "-2", "0", "2", "4"]

pred_points = pred_sparse_left + pred_mid_upper + pred_dense_upper + pred_blob_core + pred_blob_wide + pred_mid_lower + pred_dense_lower
time_points = time_dense_column + time_column_core + time_column_outer + time_sparse + time_group_20h + time_group_40h_upper + time_group_40h_lower

W, H = 707, 1431
RED = "#ff0000"
AXIS = "#2b2b2b"
marker = dict(symbol="circle-open", size=8, color=RED, line=dict(color=RED, width=1.5))

fig = go.Figure()
fig.add_trace(go.Scatter(x=[p[0] for p in pred_points], y=[p[1] for p in pred_points], mode="markers", marker=marker, xaxis="x", yaxis="y", showlegend=False))
fig.add_trace(go.Scatter(x=[p[0] for p in time_points], y=[p[1] for p in time_points], mode="markers", marker=marker, xaxis="x2", yaxis="y2", showlegend=False))

for xs, ys, width, dash, ax in [
    (pred_curve_thin_x, pred_curve_thin_y, 1.5, "4px,2px,1px,2px", "1"),
    (pred_curve_mid_x, pred_curve_mid_y, 2, "6px,3px", "1"),
    (pred_curve_thick_x, pred_curve_thick_y, 3, "9px,3px", "1"),
    (time_curve_mid_x, time_curve_mid_y, 2.5, "8px,3px", "2"),
    (time_curve_thick_x, time_curve_thick_y, 2, "9px,3px", "2"),
]:
    fig.add_trace(go.Scatter(x=xs, y=ys, mode="lines", line=dict(color="black", width=width, dash=dash, shape="spline"),
                             xaxis="x" if ax == "1" else "x2", yaxis="y" if ax == "1" else "y2", showlegend=False))

INK = "#222222"
sans = "Liberation Sans, Arial, sans-serif"
wide = "DejaVu Sans, sans-serif"
wide_tick = dict(size=16.5, color=INK, family=wide)
common = dict(showgrid=False, zeroline=False, showline=True, linecolor=AXIS, linewidth=2, ticks="outside", ticklen=6, tickwidth=2, tickcolor=AXIS, automargin=False)

fig.update_layout(
    width=W, height=H, margin=dict(l=0, r=0, t=0, b=0), paper_bgcolor="white", plot_bgcolor="white", showlegend=False,
    xaxis=dict(domain=[77/W, 1], range=[-.6, 6.1], tickvals=[0, 2, 4, 6], anchor="y", tickfont=wide_tick, ticklabelstandoff=4, **common),
    yaxis=dict(domain=[1-613/H, 1-13/H], range=[-4.5, 4.51], tickvals=y_tick_values, ticktext=y_tick_labels, anchor="x", tickfont=wide_tick, **common),
    xaxis2=dict(domain=[81/W, 1], range=[-5.05, 63.75], tickvals=[0, 10, 20, 30, 40, 50, 60], anchor="y2", tickfont=dict(size=16, color=INK, family=sans), **common),
    yaxis2=dict(domain=[1-1356/H, 1-758/H], range=[-4, 4], tickvals=y_tick_values, ticktext=y_tick_labels, anchor="x2", tickfont=wide_tick, **common),
    shapes=[
        dict(type="line", xref="paper", yref="y domain", x0=77/W, x1=1, y0=1, y1=1, line=dict(color=AXIS, width=2)),
        dict(type="line", xref="paper", yref="y2 domain", x0=81/W, x1=1, y0=1, y1=1, line=dict(color=AXIS, width=2)),
        dict(type="line", xref="x domain", yref="y", x0=0, x1=1, y0=0, y1=0, line=dict(color="black", width=1.8)),
        dict(type="line", xref="x2 domain", yref="y2", x0=0, x1=1, y0=0, y1=0, line=dict(color="black", width=4)),
    ],
    annotations=[
        dict(text="AS Conditional Weighted Residuals", xref="paper", yref="paper", x=23/W, y=1-294/H, textangle=-90, showarrow=False, xanchor="center", yanchor="middle", font=dict(size=21.3, color=INK, family=wide)),
        dict(text="AS Conditional Weighted Residuals", xref="paper", yref="paper", x=23/W, y=1-1037/H, textangle=-90, showarrow=False, xanchor="center", yanchor="middle", font=dict(size=21.3, color=INK, family=wide)),
        dict(text="Population predicted LN [AS Concentration (nmols/L)]", xref="paper", yref="paper", x=401/W, y=1-670/H, showarrow=False, xanchor="center", yanchor="middle", font=dict(size=19.2, color=INK, family="DejaVu Serif, serif")),
        dict(text="Time (h)", xref="paper", yref="paper", x=399/W, y=1-1417/H, showarrow=False, xanchor="center", yanchor="middle", font=dict(size=18, color=INK, family=sans)),
    ],
)

fig.write_html("out.html", config={"displayModeBar": False},
               post_script="document.body.style.margin='0';document.documentElement.style.overflow='hidden';")
